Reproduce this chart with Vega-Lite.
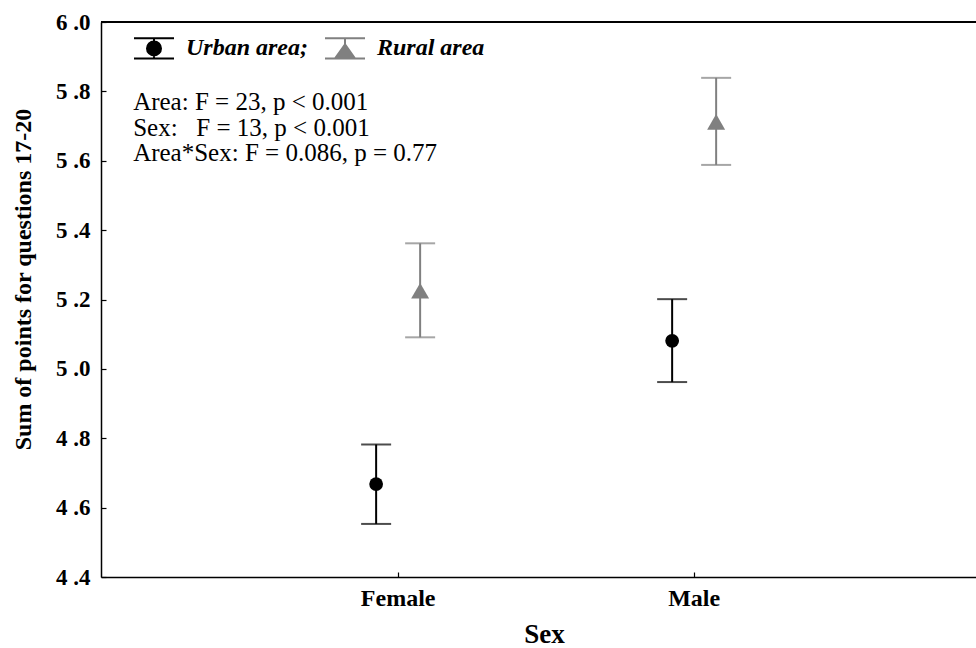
{
  "$schema": "https://vega.github.io/schema/vega-lite/v6.json",
  "width": 875,
  "height": 555,
  "autosize": "none",
  "padding": {"left": 101, "top": 22, "right": 0, "bottom": 71},
  "background": "white",
  "config": {
    "view": {"stroke": null},
    "font": "Liberation Serif",
    "axis": {"grid": false, "domainColor": "black", "domainWidth": 1.5, "tickColor": "black", "tickWidth": 1.2, "labelColor": "black", "titleColor": "black", "labelFont": "Liberation Serif", "titleFont": "Liberation Serif", "labelFontWeight": "bold", "titleFontWeight": "bold"},
    "legend": {"title": null, "orient": "none", "legendX": 32, "legendY": 5, "padding": 0, "direction": "horizontal", "symbolSize": 1600, "symbolOpacity": 1, "symbolStrokeWidth": 2, "labelFont": "Liberation Serif", "labelFontSize": 24, "labelFontStyle": "italic", "labelFontWeight": "bold", "labelColor": "black", "labelOffset": 11, "columnPadding": 12}
  },
  "data": {
    "values": [
      {"sex": "Female", "area": "Urban area", "mean": 4.668, "lo": 4.553, "hi": 4.782},
      {"sex": "Female", "area": "Rural area", "mean": 5.225, "lo": 5.091, "hi": 5.362},
      {"sex": "Male", "area": "Urban area", "mean": 5.081, "lo": 4.962, "hi": 5.201},
      {"sex": "Male", "area": "Rural area", "mean": 5.712, "lo": 5.588, "hi": 5.839}
    ]
  },
  "encoding": {
    "x": {
      "field": "sex", "type": "nominal", "sort": ["Female", "Male"],
      "scale": {"type": "band", "paddingInner": 0, "paddingOuter": 0.478, "align": 0.527},
      "axis": {"title": "Sex", "labelAngle": 0, "labelFontSize": 24, "titleFontSize": 27, "tickSize": -5, "labelPadding": 14, "titlePadding": 11, "titleX": 443}
    },
    "y": {
      "type": "quantitative",
      "scale": {"domain": [4.4, 6.0], "nice": false, "zero": false},
      "axis": {"title": "Sum of points for questions 17-20", "values": [4.4, 4.6, 4.8, 5.0, 5.2, 5.4, 5.6, 5.8, 6.0], "labelExpr": "replace(format(datum.value, '.1f'), '.', ' .')", "labelFontSize": 23, "titleFontSize": 24, "tickSize": -5, "labelPadding": 16, "titlePadding": 20, "titleY": 257}
    }
  },
  "layer": [
    {
      "mark": {"type": "rule", "color": "black", "strokeWidth": 1.5},
      "encoding": {"x": null, "y": {"datum": 6.0}}
    },
    {
      "transform": [{"filter": "datum.area == 'Urban area'"}],
      "encoding": {
        "xOffset": {"field": "area", "type": "nominal", "scale": {"domain": ["Urban area", "Rural area"], "range": [104, 192]}}
      },
      "layer": [
        {"mark": {"type": "rule", "color": "#000000", "strokeWidth": 2}, "encoding": {"y": {"field": "lo"}, "y2": {"field": "hi"}}},
        {"mark": {"type": "tick", "color": "#000000", "size": 30, "thickness": 2}, "encoding": {"y": {"field": "lo"}}},
        {"mark": {"type": "tick", "color": "#000000", "size": 30, "thickness": 2}, "encoding": {"y": {"field": "hi"}}},
        {"mark": {"type": "point", "shape": "circle", "filled": true, "color": "#000000", "size": 190, "opacity": 1}, "encoding": {"y": {"field": "mean"}}}
      ]
    },
    {
      "transform": [{"filter": "datum.area == 'Rural area'"}],
      "encoding": {
        "xOffset": {"field": "area", "type": "nominal", "scale": {"domain": ["Urban area", "Rural area"], "range": [104, 192]}}
      },
      "layer": [
        {"mark": {"type": "rule", "color": "#808080", "strokeWidth": 2}, "encoding": {"y": {"field": "lo"}, "y2": {"field": "hi"}}},
        {"mark": {"type": "tick", "color": "#808080", "size": 30, "thickness": 2}, "encoding": {"y": {"field": "lo"}}},
        {"mark": {"type": "tick", "color": "#808080", "size": 30, "thickness": 2}, "encoding": {"y": {"field": "hi"}}},
        {"mark": {"type": "point", "shape": "triangle-up", "filled": true, "color": "#808080", "size": 324, "opacity": 1}, "encoding": {"y": {"field": "mean"}}}
      ]
    },
    {
      "mark": {"type": "point", "filled": true, "size": 0, "strokeWidth": 2},
      "encoding": {
        "xOffset": {"field": "area", "type": "nominal", "scale": {"domain": ["Urban area", "Rural area"], "range": [104, 192]}},
        "y": {"field": "mean"},
        "fill": {"field": "area", "type": "nominal", "scale": {"domain": ["Urban area", "Rural area"], "range": ["#000000", "#808080"]},
          "legend": {"labelFont": "Liberation Serif", "labelExpr": "datum.label == 'Urban area' ? 'Urban area;' : datum.label"}},
        "stroke": {"field": "area", "type": "nominal", "scale": {"domain": ["Urban area", "Rural area"], "range": ["#000000", "#808080"]},
          "legend": {"labelFont": "Liberation Serif", "labelExpr": "datum.label == 'Urban area' ? 'Urban area;' : datum.label"}},
        "shape": {"field": "area", "type": "nominal", "scale": {"domain": ["Urban area", "Rural area"], "range": ["M-1,-0.51H1M0,-0.51V0.51M-1,0.51H1M0.35,0A0.35,0.35 0 1,1 -0.35,0A0.35,0.35 0 1,1 0.35,0Z", "M-1,-0.51H1M0,-0.51V0.51M-1,0.51H1M0,-0.2L0.5,0.51L-0.5,0.51Z"]},
          "legend": {"labelFont": "Liberation Serif", "labelExpr": "datum.label == 'Urban area' ? 'Urban area;' : datum.label"}}
      }
    },
    {
      "data": {"values": [{}]},
      "mark": {"type": "text", "align": "left", "baseline": "alphabetic", "font": "Liberation Serif", "fontSize": 25, "lineHeight": 25.5, "color": "black", "dx": -265,
        "text": ["Area: F = 23, p < 0.001", "Sex:\u00a0\u00a0 F = 13, p < 0.001", "Area*Sex: F = 0.086, p = 0.77"]},
      "encoding": {"x": {"datum": "Female"}, "y": {"datum": 5.745}}
    }
  ]
}
